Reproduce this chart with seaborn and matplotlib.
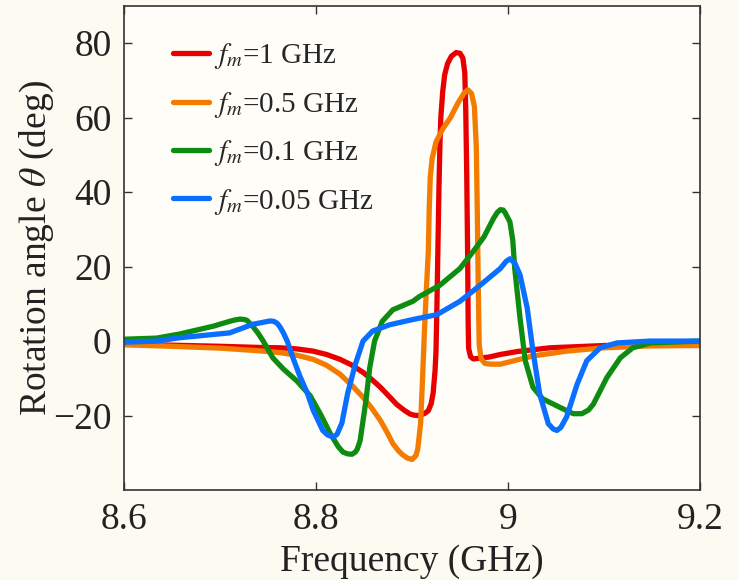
import numpy as np
import pandas as pd
import matplotlib
matplotlib.use("Agg")
import matplotlib.pyplot as plt
import seaborn as sns

# Rotation angle (deg) versus frequency (GHz) for four modulation frequencies
freq_1 = [8.600, 8.650, 8.700, 8.740, 8.7625, 8.780, 8.797, 8.811, 8.825, 8.837,
          8.849, 8.858, 8.867, 8.876, 8.884, 8.892, 8.898, 8.902, 8.906, 8.910,
          8.914, 8.917, 8.920, 8.922, 8.924, 8.925, 8.926, 8.927, 8.928, 8.929,
          8.930, 8.932, 8.934, 8.937, 8.941, 8.946, 8.950, 8.953, 8.955, 8.956,
          8.957, 8.958, 8.9585, 8.959, 8.961, 8.964, 8.970, 8.980, 8.992, 9.010,
          9.044, 9.100, 9.148, 9.200]
theta_1 = [-0.8, -1.1, -1.4, -1.7, -1.8, -2.1, -2.7, -3.6, -4.9, -6.4,
           -8.4, -10.3, -12.4, -14.8, -17.0, -18.6, -19.6, -19.9, -20.0, -19.8,
           -19.3, -18.7, -16.8, -14.0, -8.0, -2.7, 10.0, 25.0, 40.0, 52.0,
           60.0, 67.0, 71.5, 74.5, 76.5, 77.5, 77.3, 76.0, 72.0, 62.0,
           45.0, 22.0, 5.0, -2.0, -4.2, -4.8, -4.6, -4.3, -3.6, -2.8,
           -1.8, -1.2, -0.9, -0.8]

freq_05 = [8.600, 8.650, 8.700, 8.740, 8.7625, 8.780, 8.797, 8.811, 8.825, 8.837,
           8.849, 8.858, 8.867, 8.874, 8.880, 8.886, 8.890, 8.895, 8.900, 8.904,
           8.906, 8.909, 8.911, 8.913, 8.915, 8.917, 8.918, 8.919, 8.921, 8.925,
           8.932, 8.940, 8.948, 8.954, 8.958, 8.962, 8.965, 8.967, 8.968, 8.969,
           8.970, 8.972, 8.976, 8.982, 8.992, 9.026, 9.061, 9.100, 9.148, 9.200]
theta_05 = [-1.0, -1.4, -1.9, -2.6, -3.1, -3.8, -4.9, -6.5, -8.9, -11.8,
            -15.1, -18.0, -21.3, -24.5, -27.5, -29.5, -30.5, -31.4, -31.8, -30.8,
            -29.0, -22.0, -10.0, 3.0, 14.0, 24.0, 36.0, 44.0, 49.0, 53.5,
            57.0, 60.0, 64.0, 66.5, 67.5, 66.5, 63.0, 52.0, 35.0, 15.0,
            -1.0, -4.8, -6.0, -6.2, -6.2, -4.0, -2.7, -1.8, -1.3, -1.2]

freq_01 = [8.600, 8.634, 8.658, 8.693, 8.710, 8.716, 8.721, 8.725, 8.728, 8.734,
           8.740, 8.745, 8.755, 8.766, 8.780, 8.794, 8.805, 8.815, 8.823, 8.828,
           8.833, 8.8375, 8.841, 8.843, 8.846, 8.852, 8.856, 8.861, 8.869, 8.880,
           8.901, 8.908, 8.929, 8.950, 8.9635, 8.975, 8.985, 8.989, 8.992, 8.995,
           8.997, 9.002, 9.005, 9.007, 9.0125, 9.018, 9.026, 9.036, 9.054, 9.068,
           9.077, 9.084, 9.089, 9.103, 9.117, 9.130, 9.148, 9.200]
theta_01 = [0.5, 0.8, 1.9, 4.0, 5.3, 5.7, 5.9, 5.8, 5.6, 4.0,
            2.0, 0.0, -4.5, -7.5, -10.7, -14.7, -19.8, -24.9, -28.3, -29.8,
            -30.3, -30.4, -29.8, -29.0, -26.7, -16.0, -7.1, 0.0, 5.3, 8.4,
            10.7, 12.0, 15.0, 19.5, 24.0, 28.0, 33.0, 34.6, 35.3, 35.2,
            34.5, 32.0, 27.0, 19.5, 6.2, -5.3, -12.4, -15.5, -17.8, -19.5,
            -19.5, -18.5, -16.9, -9.8, -4.5, -1.8, -0.5, 0.0]

freq_005 = [8.600, 8.634, 8.658, 8.710, 8.734, 8.746, 8.752, 8.756, 8.7595, 8.7625,
            8.766, 8.770, 8.776, 8.783, 8.791, 8.797, 8.807, 8.812, 8.818, 8.822,
            8.827, 8.833, 8.841, 8.849, 8.859, 8.877, 8.901, 8.926, 8.950, 8.971,
            8.992, 8.998, 9.002, 9.007, 9.0125, 9.020, 9.026, 9.033, 9.042, 9.047,
            9.051, 9.055, 9.061, 9.072, 9.082, 9.096, 9.1135, 9.148, 9.200]
theta_005 = [-0.3, 0.0, 0.9, 2.2, 4.5, 5.1, 5.4, 5.3, 4.8, 3.8,
             2.2, 0.0, -4.5, -9.3, -14.0, -18.5, -24.0, -25.2, -25.8, -25.0,
             -22.0, -14.0, -6.2, 0.0, 2.7, 4.4, 5.8, 7.1, 10.7, 15.0,
             19.5, 21.4, 22.1, 21.0, 17.8, 8.9, -2.7, -14.2, -22.2, -23.6,
             -24.0, -23.2, -20.4, -11.6, -5.3, -1.8, -0.5, 0.0, 0.0]

labels = [r"$f_m$=1 GHz", r"$f_m$=0.5 GHz", r"$f_m$=0.1 GHz", r"$f_m$=0.05 GHz"]
colors = ["#E80000", "#F27B00", "#0E8C12", "#0A6EFF"]

series = [(freq_1, theta_1), (freq_05, theta_05), (freq_01, theta_01), (freq_005, theta_005)]
frames = []
for lab, (f, t) in zip(labels, series):
    frames.append(pd.DataFrame({"freq": f, "theta": t, "series": lab}))
df = pd.concat(frames, ignore_index=True)

sns.set_theme(style="ticks")
plt.rcParams["font.family"] = ["Liberation Serif", "DejaVu Serif"]
plt.rcParams["mathtext.fontset"] = "stix"

fig = plt.figure(figsize=(7.38, 5.80), dpi=100, facecolor="#FDFAF1")
ax = fig.add_axes([124 / 738, 1 - 490 / 580, 576 / 738, 484 / 580])
ax.set_facecolor("#FEFDF8")

sns.lineplot(data=df, x="freq", y="theta", hue="series", hue_order=labels,
             palette=colors, estimator=None, sort=False, linewidth=3.8,
             ax=ax, legend=True)
for line in ax.get_lines():
    line.set_solid_joinstyle("round")
    line.set_solid_capstyle("round")

ax.set_xlim(8.6, 9.2)
ax.set_ylim(-40, 90)
ax.set_xticks([8.6, 8.8, 9.0, 9.2])
ax.set_xticklabels(["8.6", "8.8", "9", "9.2"])
ax.set_yticks([-20, 0, 20, 40, 60, 80])
ax.set_yticklabels(["\u221220", "0", "20", "40", "60", "80"])

ax.tick_params(direction="in", length=6, width=1.0, colors="#333333",
               labelcolor="#222222", labelsize=27, top=True, right=True, pad=9)
for s in ax.spines.values():
    s.set_color("#333333")
    s.set_linewidth(1.2)

ax.set_xlabel("Frequency (GHz)", fontsize=27, color="#222222", labelpad=5)
ax.set_ylabel(r"Rotation angle $\theta$ (deg)", fontsize=27, color="#222222", labelpad=-2)

leg = ax.legend(loc="upper left", bbox_to_anchor=(0.085, 0.9267), frameon=False,
                fontsize=21, handlelength=1.25, handletextpad=0.15,
                labelspacing=0.63, borderpad=0, borderaxespad=0)
for h in leg.get_lines():
    h.set_linewidth(3.8)

fig.savefig("out.png", dpi=100, facecolor=fig.get_facecolor())
